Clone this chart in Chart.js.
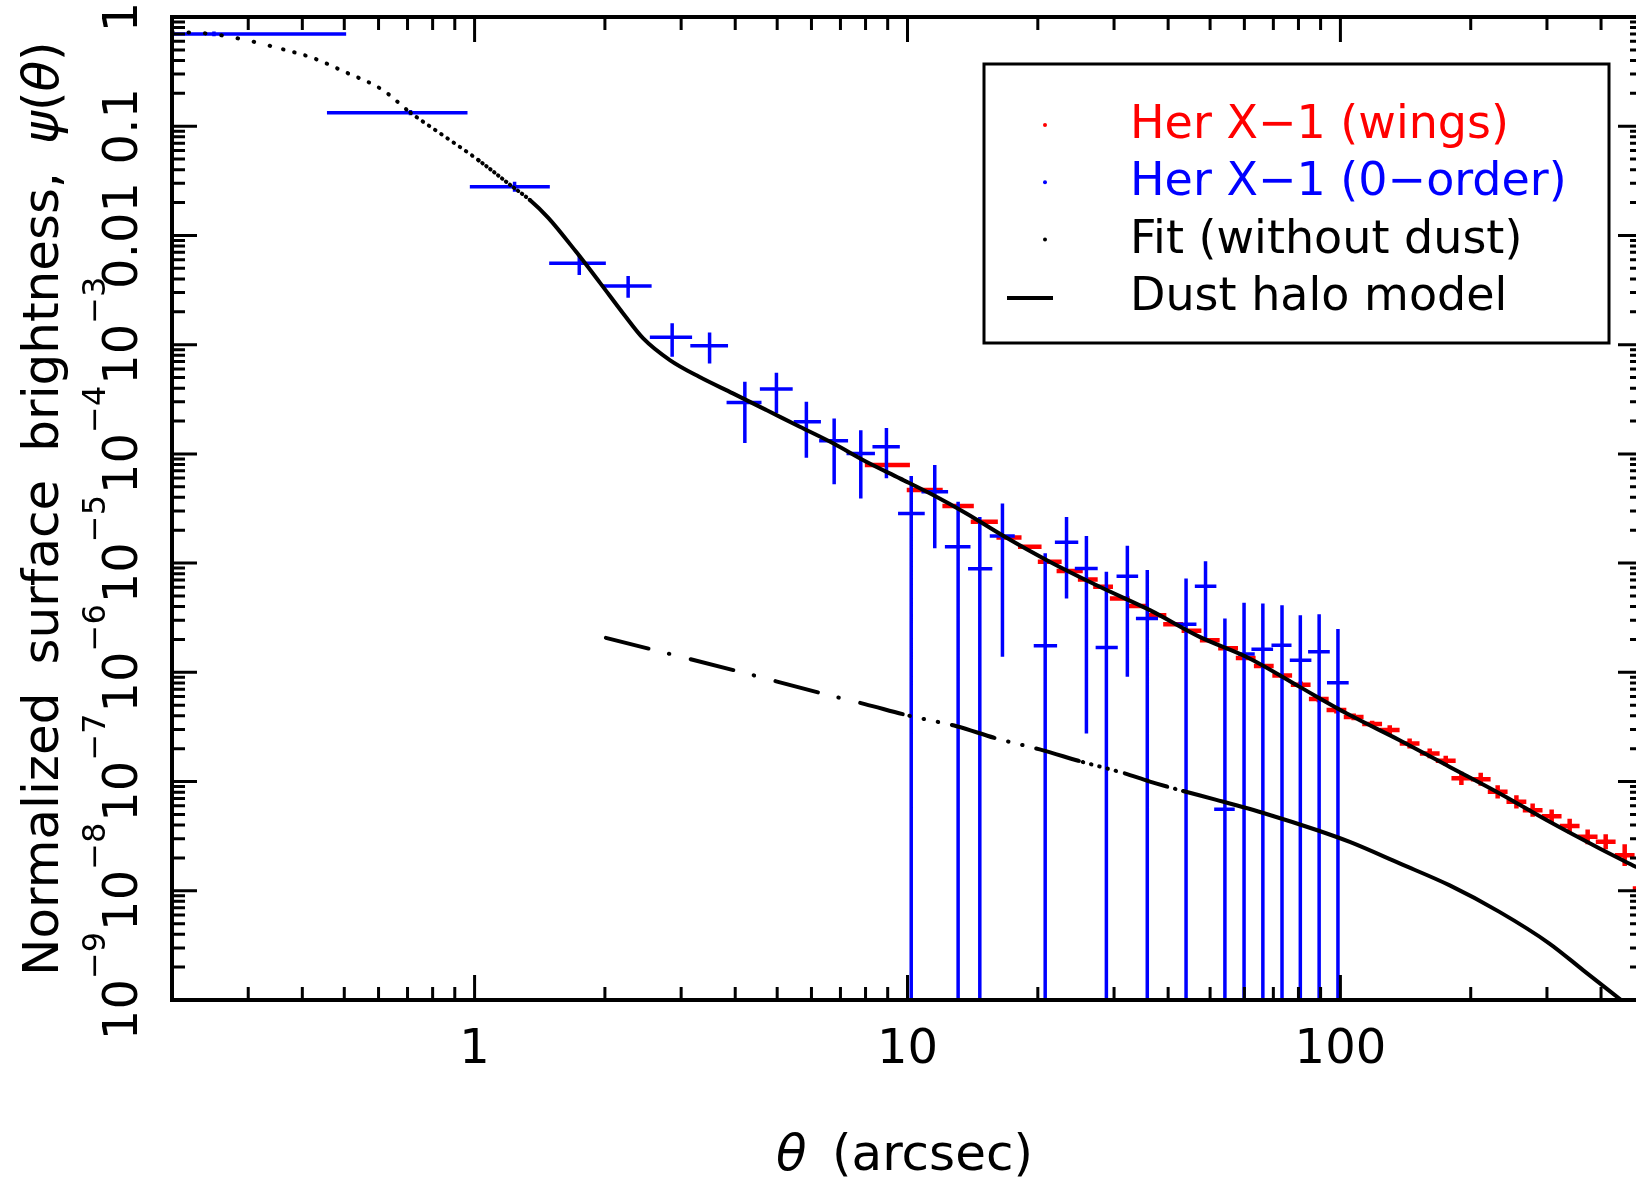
<!DOCTYPE html>
<html lang="en">
<head>
<meta charset="utf-8">
<title>Her X-1 surface brightness</title>
<script src="https://cdn.jsdelivr.net/npm/chart.js@4.4.1/dist/chart.umd.min.js"></script>
<style>
  html, body { margin: 0; padding: 0; overflow: hidden; background: #fff; }
  canvas { display: block; }
</style>
</head>
<body>
<canvas id="haloChart" width="1660" height="1180" style="width:1660px;height:1180px"></canvas>
<script>
// Her X-1 wings (red): bin centre, bin edges, value, error in dex
const wingTheta = [8.98, 10.96, 13.09, 15.09, 17.14, 19.16, 21.32, 23.71, 26.09, 28.30, 30.93, 34.09, 37.59, 41.06, 45.29, 49.92, 55.02, 60.43, 66.53, 73.38, 80.96, 89.14, 97.9, 107.3, 118.4, 130.0, 144.5, 160.8, 175.1, 190.3, 210.9, 230.8, 255.0, 278.0, 307.6, 338.5, 372.5, 410.0, 453.6, 499.1];
const wingLo = [7.97, 9.96, 12.04, 14.0, 16.05, 18.0, 20.0, 22.1, 24.75, 26.85, 29.34, 32.34, 35.66, 38.96, 42.97, 47.36, 52.2, 57.33, 63.12, 69.62, 76.81, 84.57, 92.9, 101.8, 112.3, 123.3, 137.1, 152.6, 166.1, 180.5, 200.1, 219.0, 241.9, 263.8, 291.8, 321.2, 353.4, 389.0, 430.4, 473.5];
const wingHi = [10.13, 12.06, 14.23, 16.17, 18.34, 20.4, 22.7, 25.4, 27.5, 29.83, 32.6, 35.93, 39.62, 43.28, 47.74, 52.61, 58.0, 63.69, 70.12, 77.34, 85.33, 93.95, 103.2, 113.1, 124.8, 137.0, 152.3, 169.5, 184.6, 200.6, 222.3, 243.3, 268.8, 293.0, 324.2, 356.8, 392.6, 432.2, 478.1, 526.1];
const wingPsi = [7.9e-5, 4.66e-5, 3.33e-5, 2.39e-5, 1.72e-5, 1.41e-5, 1.03e-5, 8.45e-6, 7.09e-6, 6.07e-6, 4.75e-6, 4.04e-6, 3.34e-6, 2.76e-6, 2.40e-6, 1.97e-6, 1.66e-6, 1.35e-6, 1.14e-6, 9.33e-7, 7.69e-7, 5.71e-7, 4.51e-7, 3.91e-7, 3.36e-7, 2.96e-7, 2.23e-7, 1.81e-7, 1.55e-7, 1.07e-7, 1.05e-7, 8.05e-8, 6.52e-8, 5.47e-8, 4.82e-8, 3.91e-8, 3.12e-8, 2.81e-8, 2.12e-8, 1.05e-8];
const wingErrDex = [0.012, 0.012, 0.012, 0.012, 0.012, 0.012, 0.012, 0.012, 0.02, 0.02, 0.02, 0.02, 0.02, 0.02, 0.02, 0.02, 0.02, 0.02, 0.02, 0.02, 0.03, 0.03, 0.03, 0.03, 0.03, 0.045, 0.045, 0.045, 0.045, 0.06, 0.06, 0.06, 0.06, 0.06, 0.06, 0.068, 0.068, 0.068, 0.1, 0.1];

// Her X-1 zero order (blue); a lower value of 0 means the bar runs off the bottom
const blueTheta = [0.25, 0.711, 1.237, 1.745, 2.263, 2.86, 3.49, 4.21, 4.98, 5.84, 6.77, 7.80, 8.94, 10.2, 11.56, 13.09, 14.69, 16.57, 20.8, 23.3, 25.9, 28.8, 32.2, 35.8, 44.0, 48.8, 54.1, 59.9, 66.2, 73.3, 80.8, 89.3, 98.7];
const blueLo = [0.1, 0.456, 0.975, 1.487, 1.98, 2.54, 3.15, 3.82, 4.56, 5.46, 6.25, 7.23, 8.30, 9.51, 10.77, 12.2, 13.8, 15.49, 19.57, 21.9, 24.35, 27.2, 30.4, 33.7, 41.4, 46.1, 51.1, 58.0, 62.3, 69.3, 76.4, 84.2, 93.1];
const blueHi = [0.505, 0.963, 1.492, 2.01, 2.564, 3.18, 3.85, 4.60, 5.43, 6.31, 7.29, 8.41, 9.60, 10.96, 12.41, 13.98, 15.7, 17.69, 22.16, 24.8, 27.5, 30.6, 34.1, 37.9, 46.5, 51.7, 57.0, 63.4, 69.9, 77.1, 85.7, 94.5, 104.5];
const bluePsi = [0.699, 0.133, 0.0279, 5.55e-3, 3.44e-3, 1.17e-3, 9.77e-4, 2.96e-4, 3.92e-4, 1.97e-4, 1.32e-4, 1.01e-4, 1.16e-4, 2.85e-5, 4.5e-5, 1.41e-5, 8.9e-6, 1.77e-5, 1.75e-6, 1.55e-5, 8.93e-6, 1.69e-6, 7.6e-6, 3.11e-6, 2.76e-6, 6.15e-6, 5.59e-8, 1.47e-6, 1.63e-6, 1.77e-6, 1.29e-6, 1.54e-6, 8.01e-7];
const bluePsiLo = [0.665, 0.126, 0.0251, 4.34e-3, 2.69e-3, 7.75e-4, 6.74e-4, 1.26e-4, 2.35e-4, 9.21e-5, 5.26e-5, 3.91e-5, 5.97e-5, 0, 1.37e-5, 0, 0, 1.39e-6, 0, 4.75e-6, 2.75e-7, 0, 9.1e-7, 0, 0, 2.04e-6, 0, 0, 0, 0, 0, 0, 0];
const bluePsiHi = [0.735, 0.141, 0.031, 6.62e-3, 4.25e-3, 1.57e-3, 1.29e-3, 4.57e-4, 5.53e-4, 3.0e-4, 2.11e-4, 1.65e-4, 1.73e-4, 6.26e-5, 7.9e-5, 3.64e-5, 2.65e-5, 3.52e-5, 1.23e-5, 2.65e-5, 1.77e-5, 8.33e-6, 1.44e-5, 8.63e-6, 7.24e-6, 1.04e-5, 3.11e-6, 4.33e-6, 4.27e-6, 4.12e-6, 3.34e-6, 3.41e-6, 2.49e-6];

// fit without dust
const fitTheta = [0.2, 0.217, 0.25, 0.301, 0.361, 0.425, 0.5, 0.613, 0.711, 0.832, 1.02, 1.224, 1.342, 1.48, 1.72, 1.947, 2.204, 2.452, 2.825, 3.31, 3.95, 4.72, 5.64, 6.73, 8.03, 9.6, 11.46, 13.68, 16.63, 21.3, 27.8, 36.3, 47.3, 61.7, 80.5, 105.1, 137, 178.9, 233.3, 304.3, 397, 481];
const fitPsi = [0.735, 0.724, 0.695, 0.607, 0.506, 0.419, 0.316, 0.215, 0.133, 0.0861, 0.049, 0.0279, 0.0211, 0.0145, 7.0e-3, 3.7e-3, 1.93e-3, 1.14e-3, 7.22e-4, 5.05e-4, 3.58e-4, 2.52e-4, 1.77e-4, 1.25e-4, 8.47e-5, 5.97e-5, 4.2e-5, 2.85e-5, 1.78e-5, 1.03e-5, 6.07e-6, 3.71e-6, 2.11e-6, 1.34e-6, 7.36e-7, 4.06e-7, 2.39e-7, 1.36e-7, 7.78e-8, 4.28e-8, 2.44e-8, 1.66e-8];

// dust halo model
const dustTheta = [2.01, 4.03, 6.35, 7.97, 10.1, 12.98, 16.05, 20.2, 25.4, 31.5, 36.3, 43.3, 51.7, 67.5, 88.1, 105.1, 137, 178.9, 233, 304, 364, 445];
const dustPsi = [2.07e-6, 1.03e-6, 6.41e-7, 5.12e-7, 4.0e-7, 3.21e-7, 2.48e-7, 1.97e-7, 1.51e-7, 1.2e-7, 1.0e-7, 8.2e-8, 6.8e-8, 5.05e-8, 3.6e-8, 2.8e-8, 1.78e-8, 1.12e-8, 6.41e-9, 3.29e-9, 1.87e-9, 1.0e-9];

const xTickValues = [1, 10, 100];
const xTickLabels = ['1', '10', '100'];
const yTickValues = [1, 0.1, 0.01, 1e-3, 1e-4, 1e-5, 1e-6, 1e-7, 1e-8, 1e-9];
const yTickBase = ['1', '0.1', '0.01', '10', '10', '10', '10', '10', '10', '10'];
const yTickExp = ['', '', '', '−3', '−4', '−5', '−6', '−7', '−8', '−9'];

const FONT = "'DejaVu Sans', sans-serif";
const RED = '#ff0000';
const BLUE = '#0000ff';

function points(xs, ys) {
  return xs.map((v, i) => ({ x: v, y: ys[i] }));
}

// dotted start of the fit, dots getting closer together
function fitDash(t) {
  if (t < 0.36) return [0.5, 16];
  if (t < 0.62) return [0.5, 11];
  if (t < 0.95) return [0.5, 7];
  if (t < 1.25) return [0.5, 4.5];
  return undefined;
}

// long dashes whose gaps fill up with dots, solid further out
function dustDash(t) {
  if (t < 10) return [44, 21, 0.5, 22];
  if (t < 25) return [0.5, 14, 0.5, 14, 0.5, 14, 44, 0];
  if (t < 40) return [0.5, 8, 0.5, 8, 0.5, 8, 0.5, 8, 0.5, 9, 44, 0];
  return undefined;
}

function clipArea(ctx, a) {
  ctx.beginPath();
  ctx.rect(a.left, a.top, a.right - a.left, a.bottom - a.top);
  ctx.clip();
}

function drawCrosses(chart, xs, lo, hi, ys, ylo, yhi, color, width) {
  const { ctx, chartArea: a, scales: { x, y } } = chart;
  ctx.save();
  clipArea(ctx, a);
  ctx.strokeStyle = color;
  ctx.lineWidth = width;
  ctx.lineCap = 'butt';
  ctx.beginPath();
  for (let i = 0; i < xs.length; i++) {
    const px = x.getPixelForValue(xs[i]);
    const py = y.getPixelForValue(ys[i]);
    ctx.moveTo(x.getPixelForValue(lo[i]), py);
    ctx.lineTo(x.getPixelForValue(hi[i]), py);
    const top = y.getPixelForValue(yhi[i]);
    const bottom = ylo[i] > 0 ? y.getPixelForValue(ylo[i]) : a.bottom + 10;
    ctx.moveTo(px, top);
    ctx.lineTo(px, bottom);
  }
  ctx.stroke();
  ctx.restore();
}

function drawFrame(chart) {
  const { ctx, chartArea: a, scales: { x, y } } = chart;
  ctx.save();
  ctx.strokeStyle = '#000';
  ctx.lineWidth = 3;
  ctx.beginPath();
  for (let e = -1; e <= 2; e++) {
    for (let m = 1; m <= 9; m++) {
      const v = m * Math.pow(10, e);
      if (v < 0.199 || v > 500.1) continue;
      const px = x.getPixelForValue(v);
      const len = m === 1 ? 25 : 13;
      ctx.moveTo(px, a.bottom); ctx.lineTo(px, a.bottom - len);
      ctx.moveTo(px, a.top); ctx.lineTo(px, a.top + len);
    }
  }
  for (let e = -9; e <= 0; e++) {
    for (let m = 1; m <= 9; m++) {
      const v = m * Math.pow(10, e);
      if (v > 1.001) continue;
      const py = y.getPixelForValue(v);
      const len = m === 1 ? 25 : 13;
      ctx.moveTo(a.left, py); ctx.lineTo(a.left + len, py);
      ctx.moveTo(a.right, py); ctx.lineTo(a.right - len, py);
    }
  }
  ctx.stroke();
  ctx.lineWidth = 4;
  ctx.strokeRect(a.left, a.top, a.right - a.left, a.bottom - a.top);
  ctx.restore();
}

function drawLegend(chart) {
  const ctx = chart.ctx;
  ctx.save();
  ctx.fillStyle = '#fff';
  ctx.fillRect(984, 64, 625, 279);
  ctx.strokeStyle = '#000';
  ctx.lineWidth = 3;
  ctx.strokeRect(984, 64, 625, 279);
  ctx.font = '46px ' + FONT;
  ctx.textAlign = 'left';
  ctx.textBaseline = 'alphabetic';
  chart.data.datasets.forEach((ds, i) => {
    const base = 138 + i * 57.3;
    ctx.fillStyle = ds.borderColor;
    ctx.strokeStyle = ds.borderColor;
    if (ds.legendMark === 'line') {
      ctx.lineWidth = 4;
      ctx.beginPath();
      ctx.moveTo(1007, base - 12);
      ctx.lineTo(1053, base - 12);
      ctx.stroke();
    } else {
      ctx.beginPath();
      ctx.arc(1045, base - 13, 2, 0, Math.PI * 2);
      ctx.fill();
    }
    ctx.fillText(ds.label, 1130, base);
  });
  ctx.restore();
}

function drawLabels(chart) {
  const { ctx, scales: { x, y } } = chart;
  ctx.save();
  ctx.fillStyle = '#000';
  ctx.textBaseline = 'alphabetic';

  ctx.font = '48px ' + FONT;
  ctx.textAlign = 'center';
  xTickValues.forEach((v, i) => ctx.fillText(xTickLabels[i], x.getPixelForValue(v), 1063));

  // y tick labels are turned to read upwards, with superscript exponents
  ctx.textAlign = 'left';
  yTickValues.forEach((v, i) => {
    const py = y.getPixelForValue(v);
    ctx.save();
    ctx.translate(137, py);
    ctx.rotate(-Math.PI / 2);
    ctx.font = '48px ' + FONT;
    const wb = ctx.measureText(yTickBase[i]).width;
    ctx.font = '32px ' + FONT;
    const we = yTickExp[i] ? ctx.measureText(yTickExp[i]).width : 0;
    const start = -(wb + we) / 2 + (we ? 14 : 0);
    ctx.font = '48px ' + FONT;
    ctx.fillText(yTickBase[i], start, 0);
    if (we) {
      ctx.font = '32px ' + FONT;
      ctx.fillText(yTickExp[i], start + wb, -32);
    }
    ctx.restore();
  });

  // y axis title
  ctx.save();
  ctx.translate(58, 976);
  ctx.rotate(-Math.PI / 2);
  let cx = 0;
  const yParts = [['Normalized', false, 28], ['surface', false, 28], ['brightness,', false, 28], ['ψ', true, 0], ['(', false, 0], ['θ', true, 0], [')', false, 0]];
  yParts.forEach(([t, italic, gap]) => {
    ctx.font = (italic ? 'italic ' : '') + '50px ' + FONT;
    ctx.fillText(t, cx, 0);
    cx += ctx.measureText(t).width + gap;
  });
  ctx.restore();

  // x axis title
  ctx.font = 'italic 50px ' + FONT;
  ctx.fillText('θ', 776, 1170);
  ctx.font = '50px ' + FONT;
  ctx.fillText('(arcsec)', 832, 1170);
  ctx.restore();
}

const decorations = {
  id: 'decorations',
  beforeDatasetsDraw(chart) {
    drawCrosses(chart, wingTheta, wingLo, wingHi, wingPsi,
      wingPsi.map((v, i) => v / Math.pow(10, wingErrDex[i])),
      wingPsi.map((v, i) => v * Math.pow(10, wingErrDex[i])), RED, 4.5);
    drawCrosses(chart, blueTheta, blueLo, blueHi, bluePsi, bluePsiLo, bluePsiHi, BLUE, 3.5);
  },
  afterDatasetsDraw(chart) {
    drawFrame(chart);
    drawLegend(chart);
    drawLabels(chart);
  }
};

let haloCtx = document.getElementById('haloChart').getContext('2d');
let haloChart = new Chart(haloCtx, {
  type: 'scatter',
  data: {
    datasets: [
      {
        label: 'Her X−1 (wings)',
        data: points(wingTheta, wingPsi),
        borderColor: RED,
        backgroundColor: RED,
        pointRadius: 0,
        showLine: false,
        legendMark: 'dot'
      },
      {
        label: 'Her X−1 (0−order)',
        data: points(blueTheta, bluePsi),
        borderColor: BLUE,
        backgroundColor: BLUE,
        pointRadius: 0,
        showLine: false,
        legendMark: 'dot'
      },
      {
        label: 'Fit (without dust)',
        data: points(fitTheta, fitPsi),
        borderColor: '#000',
        backgroundColor: '#000',
        borderWidth: 4,
        borderCapStyle: 'round',
        borderJoinStyle: 'round',
        pointRadius: 0,
        showLine: true,
        cubicInterpolationMode: 'monotone',
        segment: { borderDash: ctx => fitDash(ctx.p0.parsed.x) },
        legendMark: 'dot'
      },
      {
        label: 'Dust halo model',
        data: points(dustTheta, dustPsi),
        borderColor: '#000',
        backgroundColor: '#000',
        borderWidth: 4,
        borderCapStyle: 'round',
        borderJoinStyle: 'round',
        pointRadius: 0,
        showLine: true,
        cubicInterpolationMode: 'monotone',
        segment: { borderDash: ctx => dustDash(ctx.p0.parsed.x) },
        legendMark: 'line'
      }
    ]
  },
  options: {
    responsive: false,
    animation: false,
    devicePixelRatio: 1,
    layout: { padding: { left: 172, top: 17, right: 17, bottom: 180 } },
    scales: {
      x: { type: 'logarithmic', min: 0.2, max: 500, display: false },
      y: { type: 'logarithmic', min: 1e-9, max: 1, display: false }
    },
    plugins: {
      legend: { display: false },
      tooltip: { enabled: false }
    }
  },
  plugins: [decorations]
});
</script>
</body>
</html>
